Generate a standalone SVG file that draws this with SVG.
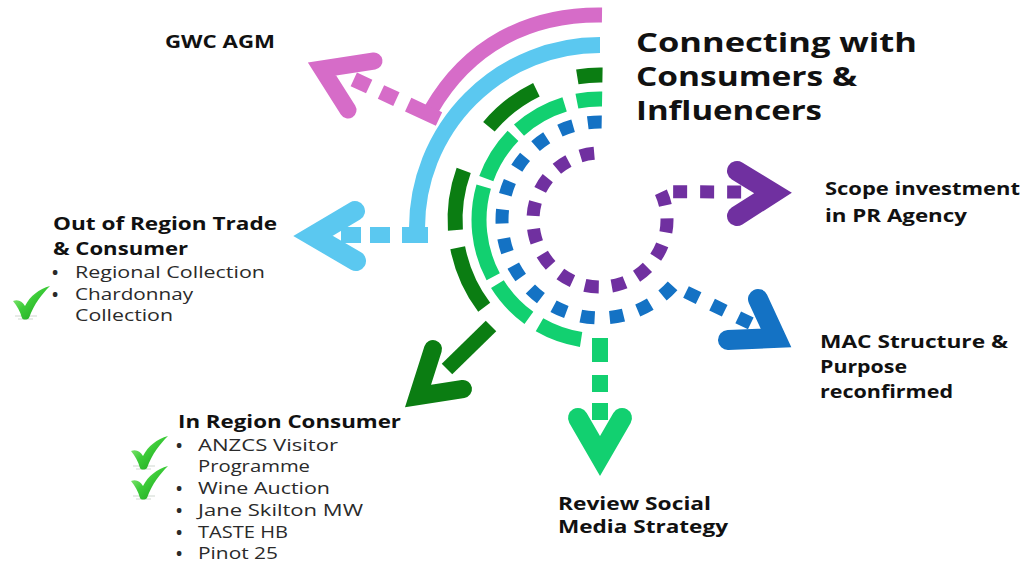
<svg xmlns="http://www.w3.org/2000/svg" xmlns:xlink="http://www.w3.org/1999/xlink" width="1025" height="562" viewBox="0 0 1025 562">
<style>
.h{font-family:"Open Sans","Liberation Sans",sans-serif;font-weight:700;fill:#111}
.b{font-family:"Open Sans","Liberation Sans",sans-serif;font-weight:400;fill:#2a2a2a;font-size:16.5px}
.d{font-family:"Open Sans","Liberation Sans",sans-serif;font-weight:700;fill:#2a2a2a;font-size:16.5px}
.t{font-size:27px}
.l{font-size:17px}
.seg{fill:none;stroke-linecap:butt}
.chev{fill:none;stroke-linecap:round;stroke-linejoin:miter;stroke-miterlimit:10}
.pink{stroke:#d66cc8}
.sky{stroke:#5bc8f0}
.dg{stroke:#0b7d12}
.lg{stroke:#12d070}
.blue{stroke:#1472c4}
.pur{stroke:#7030a0}
</style>
<defs>
<linearGradient id="ckg" x1="0" y1="0" x2="1" y2="1">
<stop offset="0" stop-color="#b4f59a"/>
<stop offset="0.45" stop-color="#3ccc38"/>
<stop offset="1" stop-color="#1c9c1c"/>
</linearGradient>
<g id="check">
<path d="M2,30 H24 M5,33 H20" stroke="#d0d8d0" stroke-width="1.2" fill="none"/>
<path d="M0,15 C5,13 9,15 12,20 C17,10 26,3 37,0 C29,8 21,18 16,32 C14,34 10,34 9,32 C7,25 4,20 0,15 Z" fill="url(#ckg)"/>
</g>
</defs>
<rect width="1025" height="562" fill="#fff"/>

<g id="connectors">
<!-- pink -->
<path class="seg pink" stroke-width="15" d="M602,15 C528,14 468,46 431,110"/>
<path class="seg pink" stroke-width="15" stroke-dasharray="34 13 17 13 17 200" d="M439,119 L338,72"/>
<polyline class="chev pink" stroke-width="17" points="374,61 322,69 348,110"/>
<!-- sky -->
<path class="seg sky" stroke-width="16" d="M600,45 A183,183 0 0 0 417,228 L417,232"/>
<path class="seg sky" stroke-width="16" stroke-dasharray="26 12 20 9 20 100" d="M428,235 H330"/>
<polyline class="chev sky" stroke-width="20" points="355,211 313,236 356,261"/>
<!-- dark green -->
<g class="seg dg" stroke-width="15">
<path d="M602.5,75 A145,145 0 0 0 577.3,76.8"/>
<path d="M536.4,89.7 A145,145 0 0 0 488.9,126.8"/>
<path d="M463.7,170.4 A145,145 0 0 0 455.4,230.1"/>
<path d="M457.7,247.7 A145,145 0 0 0 484.2,307.3"/>
<path d="M491,326 L447,369"/>
</g>
<polyline class="chev dg" stroke-width="18" points="433,349 418,396 463,389"/>
<!-- light green -->
<g class="seg lg" stroke-width="15">
<path d="M602.1,99 A121,121 0 0 0 576.9,101.2"/>
<path d="M564.6,104.3 A121,121 0 0 0 519,130.1"/>
<path d="M513,135.9 A121,121 0 0 0 486.3,178.6"/>
<path d="M483.7,186.6 A121,121 0 0 0 493.2,276.8"/>
<path d="M497.4,284.1 A121,121 0 0 0 528.9,317.9"/>
<path d="M539.5,324.8 A121,121 0 0 0 581.1,339.5"/>
</g>
<path class="seg lg" stroke-width="16" stroke-dasharray="24 13 17 11 17 60" d="M600,338 V440"/>
<polyline class="chev lg" stroke-width="20" points="578,418 600,456 622,418"/>
<!-- blue -->
<path class="seg blue" stroke-width="13" stroke-dasharray="14 15" d="M601.7,122 A98,98 0 1 0 672.8,285.6 L752,324"/>
<polyline class="chev blue" stroke-width="20" points="758,299 776,338 728,340"/>
<!-- purple -->
<path class="seg pur" stroke-width="13" stroke-dasharray="14 13" d="M594.2,153.3 A67,67 0 1 0 660.7,191.7 L745,192"/>
<polyline class="chev pur" stroke-width="20" points="737,171 773,193 737,216"/>
</g>

<g id="title">
<text class="h t" x="636" y="52" textLength="281" lengthAdjust="spacingAndGlyphs">Connecting with</text>
<text class="h t" x="636" y="86" textLength="221" lengthAdjust="spacingAndGlyphs">Consumers &amp;</text>
<text class="h t" x="636" y="120" textLength="186" lengthAdjust="spacingAndGlyphs">Influencers</text>
</g>

<g id="gwc-agm">
<text class="h l" x="165" y="48" textLength="110" lengthAdjust="spacingAndGlyphs">GWC AGM</text>
</g>

<g id="out-of-region">
<text class="h l" x="53" y="230" textLength="224" lengthAdjust="spacingAndGlyphs">Out of Region Trade</text>
<text class="h l" x="53" y="255" textLength="135" lengthAdjust="spacingAndGlyphs">&amp; Consumer</text>
<text class="d" x="52" y="278">•</text>
<text class="b" x="75" y="278" textLength="190" lengthAdjust="spacingAndGlyphs">Regional Collection</text>
<text class="d" x="52" y="300">•</text>
<text class="b" x="75" y="300" textLength="118" lengthAdjust="spacingAndGlyphs">Chardonnay</text>
<text class="b" x="75" y="321" textLength="98" lengthAdjust="spacingAndGlyphs">Collection</text>
<use href="#check" xlink:href="#check" x="13" y="286"/>
</g>

<g id="in-region">
<text class="h l" x="178" y="428" textLength="223" lengthAdjust="spacingAndGlyphs">In Region Consumer</text>
<text class="d" x="176" y="451">•</text>
<text class="b" x="198" y="451" textLength="140" lengthAdjust="spacingAndGlyphs">ANZCS Visitor</text>
<text class="b" x="198" y="472" textLength="112" lengthAdjust="spacingAndGlyphs">Programme</text>
<text class="d" x="176" y="494">•</text>
<text class="b" x="198" y="494" textLength="132" lengthAdjust="spacingAndGlyphs">Wine Auction</text>
<text class="d" x="176" y="516">•</text>
<text class="b" x="198" y="516" textLength="165" lengthAdjust="spacingAndGlyphs">Jane Skilton MW</text>
<text class="d" x="176" y="538">•</text>
<text class="b" x="198" y="538" textLength="90" lengthAdjust="spacingAndGlyphs">TASTE HB</text>
<text class="d" x="176" y="559">•</text>
<text class="b" x="198" y="559" textLength="80" lengthAdjust="spacingAndGlyphs">Pinot 25</text>
<use href="#check" xlink:href="#check" x="131" y="436"/>
<use href="#check" xlink:href="#check" x="131" y="466"/>
</g>

<g id="scope-pr">
<text class="h l" x="825" y="195" textLength="195" lengthAdjust="spacingAndGlyphs">Scope investment</text>
<text class="h l" x="825" y="222" textLength="142" lengthAdjust="spacingAndGlyphs">in PR Agency</text>
</g>

<g id="mac-structure">
<text class="h l" x="820" y="348" textLength="188" lengthAdjust="spacingAndGlyphs">MAC Structure &amp;</text>
<text class="h l" x="820" y="373" textLength="87" lengthAdjust="spacingAndGlyphs">Purpose</text>
<text class="h l" x="820" y="398" textLength="133" lengthAdjust="spacingAndGlyphs">reconfirmed</text>
</g>

<g id="social-media">
<text class="h l" x="558" y="510" textLength="153" lengthAdjust="spacingAndGlyphs">Review Social</text>
<text class="h l" x="558" y="533" textLength="170" lengthAdjust="spacingAndGlyphs">Media Strategy</text>
</g>
</svg>
